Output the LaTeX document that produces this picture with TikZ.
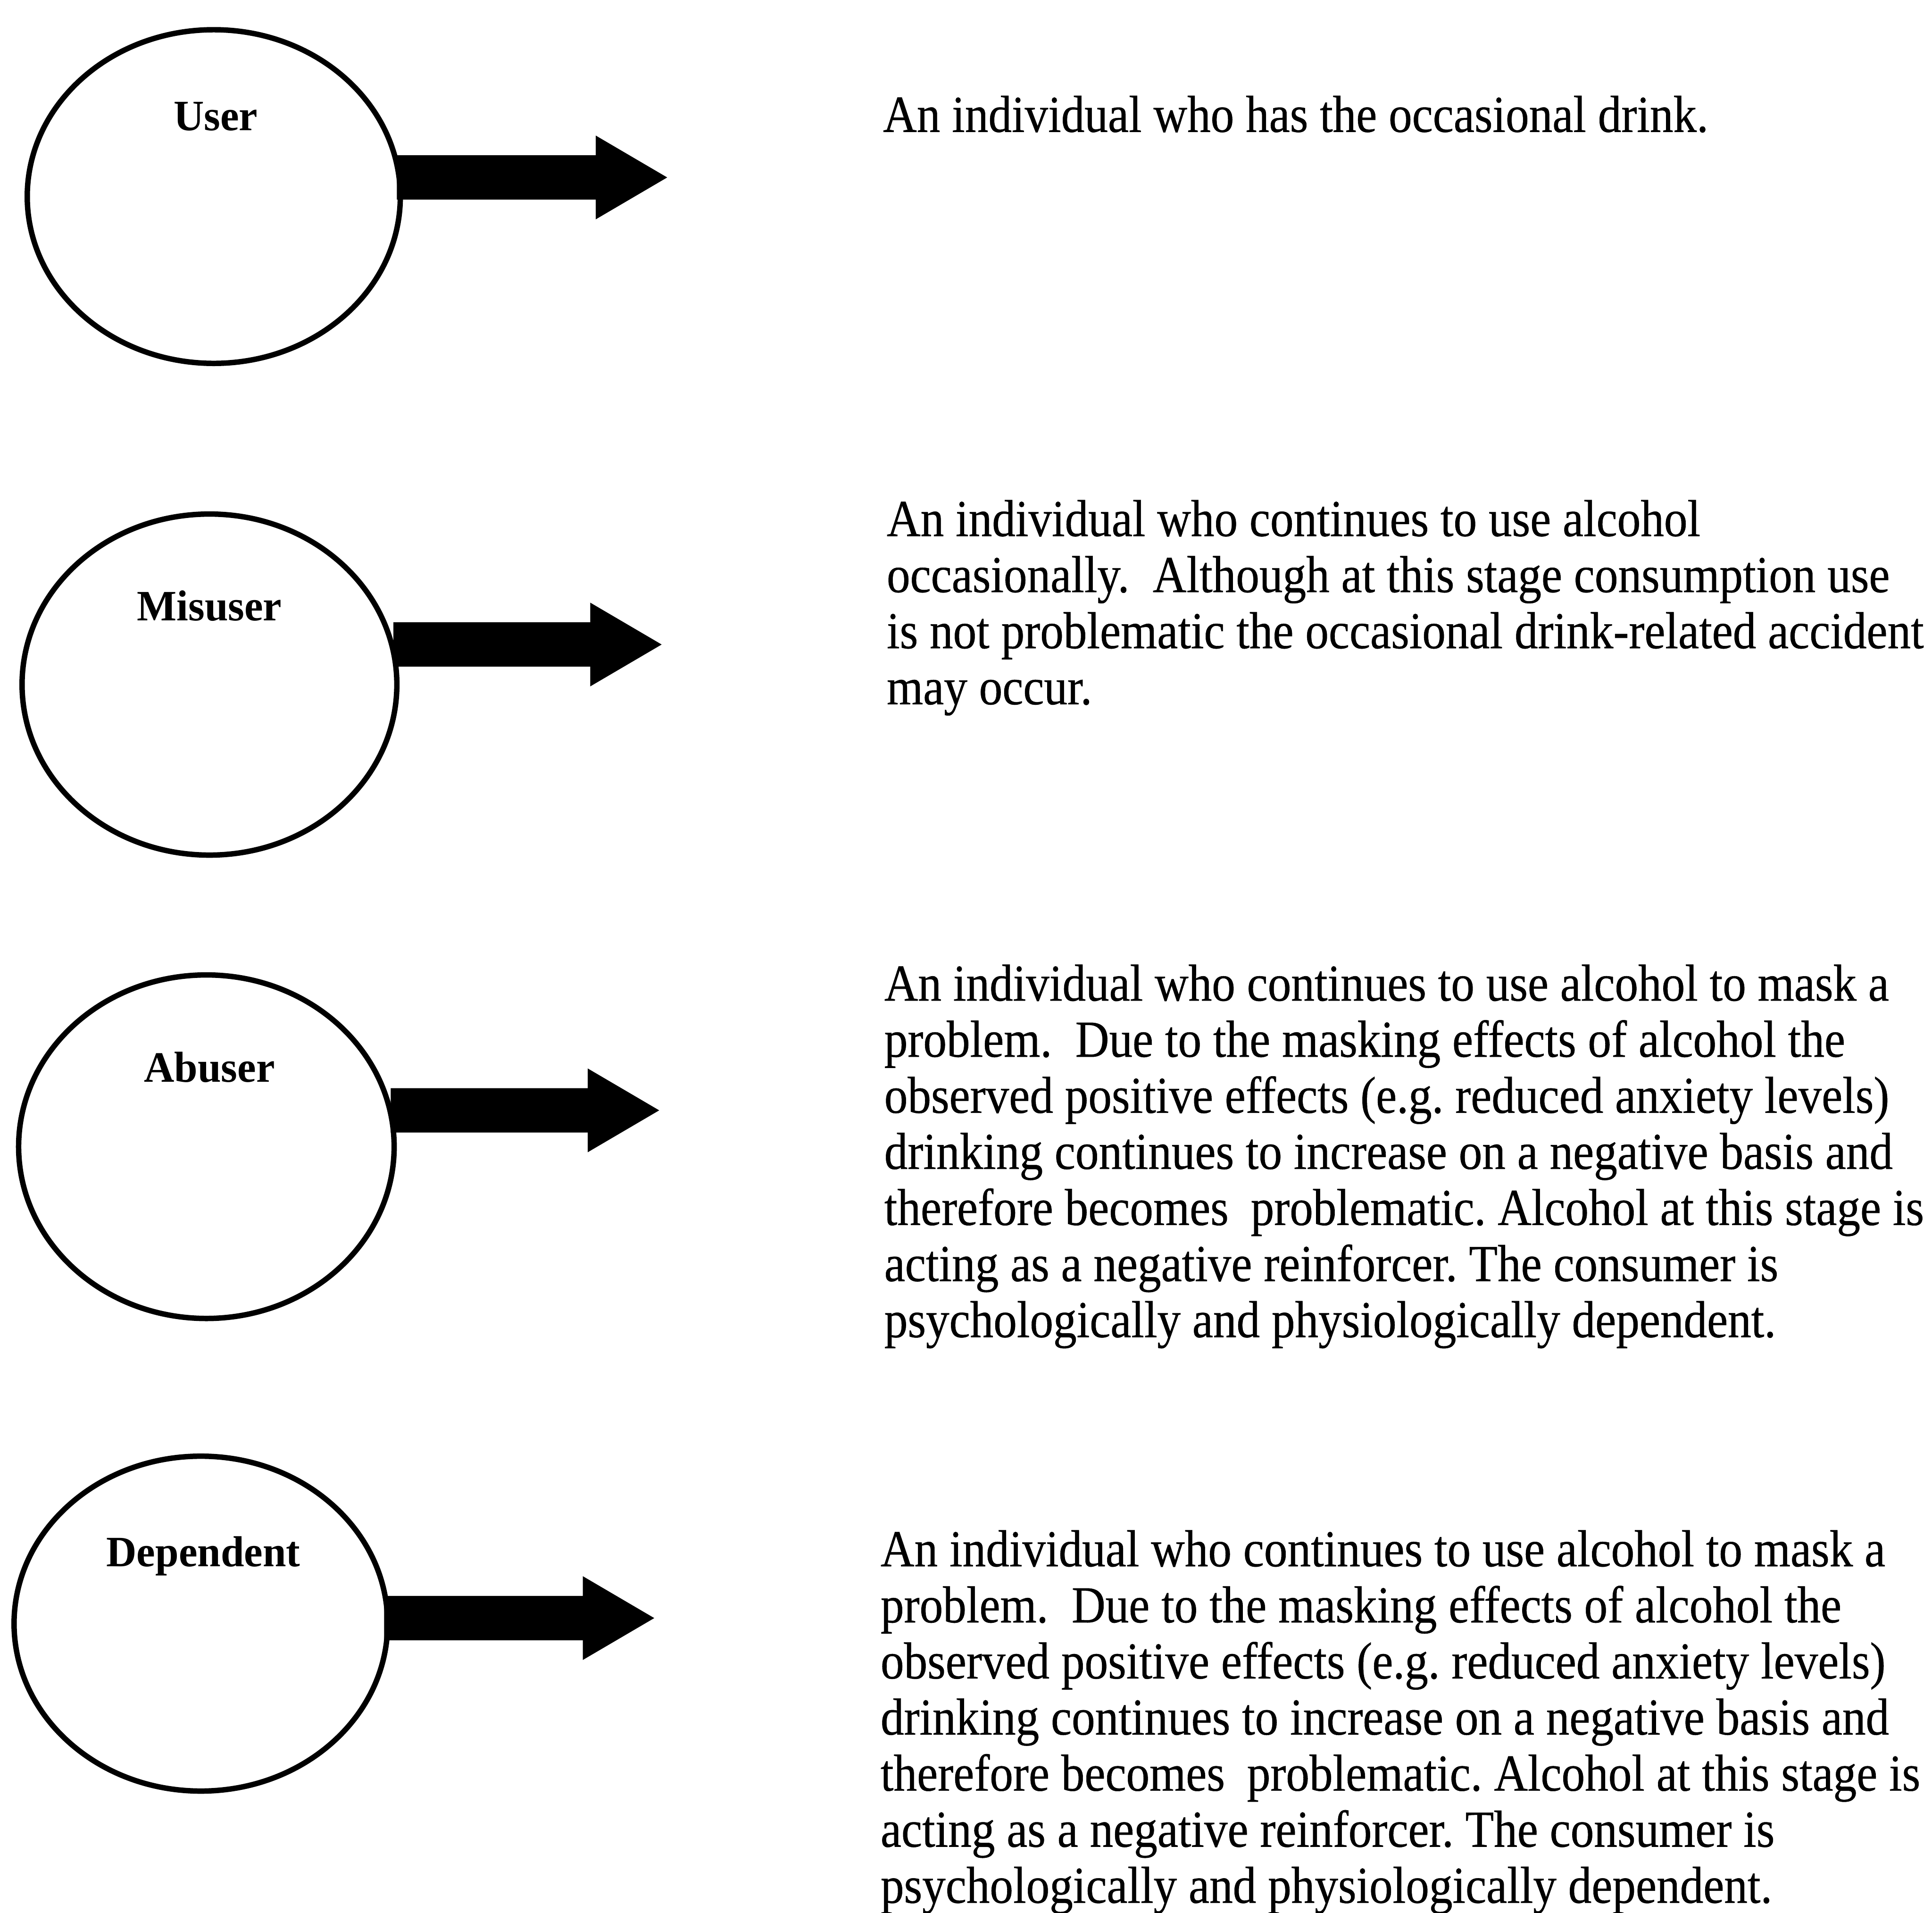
\documentclass[tikz,border=0pt]{standalone}
\usepackage{fontspec}
\setmainfont{Liberation Serif}[FakeStretch=0.9,FakeBold=0.5]
\newfontfamily\labfont{Liberation Serif}[FakeStretch=0.97]
\usetikzlibrary{shapes.geometric,calc}
\newcommand{\fatarrow}[2]{%
  \fill[black] ($(#1)+(0,-18)$) -- ($(#2)+(-58,-18)$) -- ($(#2)+(-58,-34)$) -- (#2)
    -- ($(#2)+(-58,34)$) -- ($(#2)+(-58,18)$) -- ($(#1)+(0,18)$) -- cycle;}
\tikzset{
  stage/.style={ellipse, draw=black, fill=white, line width=1.25pt, inner sep=0pt},
  lab/.style={anchor=base, inner sep=0pt, font=\labfont\bfseries\fontsize{10}{12}\selectfont},
  desc/.style={anchor=base west, inner sep=0pt, font=\frenchspacing\fontsize{12}{12.94}\selectfont}
}
\begin{document}
\begin{tikzpicture}[x=0.01cm, y=-0.01cm]
\useasboundingbox (0,0) rectangle (1568,1552);
% stages
\node[stage, minimum width=3.026cm, minimum height=2.706cm] (u) at (173.5,159.5) {};
\node[stage, minimum width=3.04cm, minimum height=2.766cm] (m) at (170,555.5) {};
\node[stage, minimum width=3.046cm, minimum height=2.786cm] (a) at (167.5,930.5) {};
\node[stage, minimum width=3.03cm, minimum height=2.716cm] (d) at (163,1317.5) {};
% labels
\node[lab] (uL) at (175,106) {User};
\node[lab] (mL) at (170,503.5) {Misuser};
\node[lab] (aL) at (170,878) {Abuser};
\node[lab] (dL) at (165,1271) {Dependent};
% arrow tips and starts
\coordinate (uTip) at (541.5,144);
\coordinate (mTip) at (537,523);
\coordinate (aTip) at (535,901);
\coordinate (dTip) at (531,1313);
\coordinate (uS) at ($(u.east |- uTip)+(-5,0)$);
\coordinate (mS) at ($(m.east |- mTip)+(-5,0)$);
\coordinate (aS) at ($(a.east |- aTip)+(-5,0)$);
\coordinate (dS) at ($(d.east |- dTip)+(-5,0)$);
\fatarrow{uS}{uTip}
\fatarrow{mS}{mTip}
\fatarrow{aS}{aTip}
\fatarrow{dS}{dTip}
% descriptions
\node[desc] (uT) at (716,107) {\begin{tabular}[t]{@{}l@{}}An individual who has the occasional drink.\end{tabular}};
\node[desc] (mT) at (719,435) {\begin{tabular}[t]{@{}l@{}}An individual who continues to use alcohol\\
occasionally.~ Although at this stage consumption use\\
is not problematic the occasional drink-related accident\\
may occur.\end{tabular}};
\node[desc] (aT) at (717,812) {\begin{tabular}[t]{@{}l@{}}An individual who continues to use alcohol to mask a\\
problem.~ Due to the masking effects of alcohol the\\
observed positive effects (e.g. reduced anxiety levels)\\
drinking continues to increase on a negative basis and\\
therefore becomes\hspace{0.2em} problematic. Alcohol at this stage is\\
acting as a negative reinforcer. The consumer is\\
psychologically and physiologically dependent.\end{tabular}};
\node[desc] (dT) at (714,1271) {\begin{tabular}[t]{@{}l@{}}An individual who continues to use alcohol to mask a\\
problem.~ Due to the masking effects of alcohol the\\
observed positive effects (e.g. reduced anxiety levels)\\
drinking continues to increase on a negative basis and\\
therefore becomes\hspace{0.2em} problematic. Alcohol at this stage is\\
acting as a negative reinforcer. The consumer is\\
psychologically and physiologically dependent.\end{tabular}};
\end{tikzpicture}
\end{document}
